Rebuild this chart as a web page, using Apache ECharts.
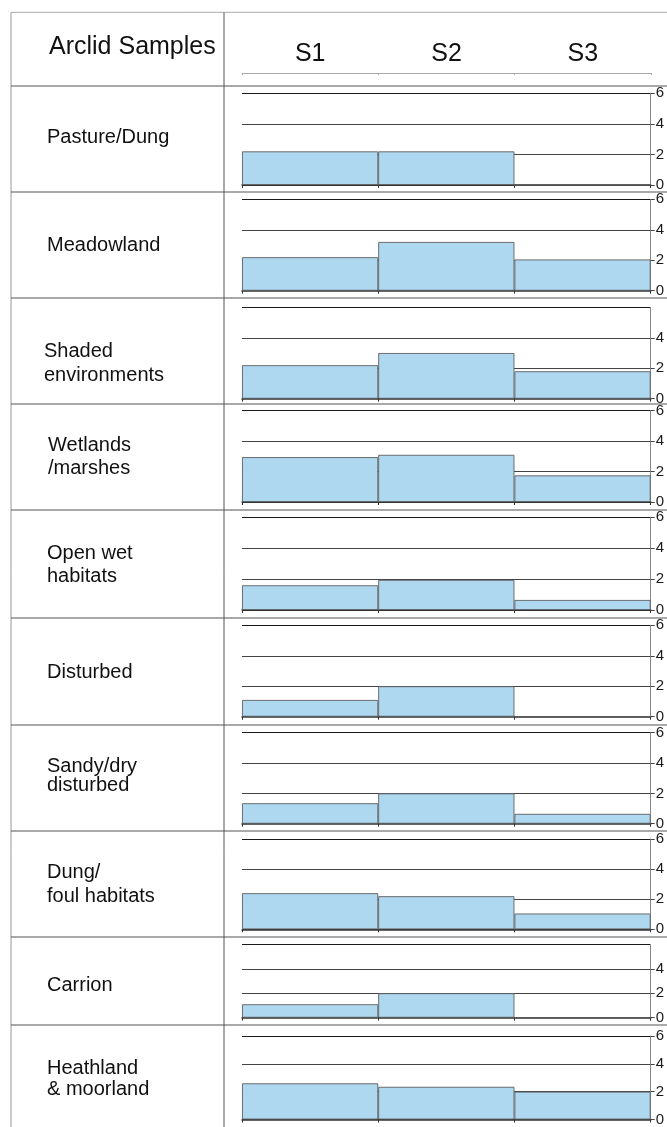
<!DOCTYPE html>
<html>
<head>
<meta charset="utf-8">
<script src="https://cdn.jsdelivr.net/npm/echarts@6/dist/echarts.min.js"></script>
<style>
html,body{margin:0;padding:0;background:#fff;}
#chart{width:667px;height:1127px;}
</style>
</head>
<body>
<div id="chart"></div>
<script>
// ---- data ----
const categories = ['S1', 'S2', 'S3'];
const habitats = ['Pasture/Dung', 'Meadowland', 'Shaded\nenvironments', 'Wetlands\n/marshes',
  'Open wet\nhabitats', 'Disturbed', 'Sandy/dry\ndisturbed', 'Dung/\nfoul habitats', 'Carrion',
  'Heathland\n& moorland'];
const pastureDung = [2.2, 2.2, 0];
const meadowland = [2.2, 3.2, 2.05];
const shaded = [2.2, 3.0, 1.8];
const wetlands = [2.95, 3.1, 1.75];
const openWet = [1.6, 1.95, 0.65];
const disturbed = [1.1, 2.0, 0];
const sandyDry = [1.35, 2.0, 0.65];
const dungFoul = [2.4, 2.2, 1.05];
const carrion = [1.1, 2.0, 0];
const heathland = [2.6, 2.35, 2.0];
const yTickLabels = [0, 2, 4, 6];
const title = 'Arclid Samples';

const values = [pastureDung, meadowland, shaded, wetlands, openWet, disturbed, sandyDry, dungFoul, carrion, heathland];

// ---- layout ----
const panelTop = [93.3, 199.3, 307.3, 410.7, 517.3, 625.3, 732.7, 839, 944.3, 1036];
const panelBottom = [185, 290.7, 398.7, 502, 610, 716.7, 823.7, 929.3, 1017.7, 1123];
const rowLines = [86, 192, 298, 404, 510, 618, 725, 831, 937, 1025];
const hideTopLabel = [false, false, true, false, false, false, false, false, true, false];
const labelPos = [
  {x: 47, y: 137, lh: 23},
  {x: 47, y: 245, lh: 23},
  {x: 44, y: 363.5, lh: 23.3},
  {x: 48, y: 456.7, lh: 23.3},
  {x: 47, y: 565, lh: 23.3},
  {x: 47, y: 672.7, lh: 23},
  {x: 47, y: 776, lh: 18.3},
  {x: 47, y: 884.7, lh: 24},
  {x: 47, y: 985.7, lh: 23},
  {x: 47, y: 1078.8, lh: 21}
];
const plotLeft = 242, plotRight = 16;
const FONT = '"Liberation Sans", Arial, Helvetica, sans-serif';

const grids = [], xAxes = [], yAxes = [], series = [], graphics = [];

values.forEach((vals, i) => {
  grids.push({left: plotLeft, right: plotRight, top: panelTop[i], height: panelBottom[i] - panelTop[i]});
  xAxes.push({
    type: 'category', gridIndex: i, data: categories,
    axisLine: {show: true, lineStyle: {color: '#333', width: 1.5}},
    axisTick: {show: true, length: 3, lineStyle: {color: '#333'}},
    axisLabel: {show: false}, splitLine: {show: false}
  });
  yAxes.push({
    type: 'value', gridIndex: i, position: 'right',
    min: yTickLabels[0], max: yTickLabels[yTickLabels.length - 1], interval: 2,
    axisLine: {show: true, lineStyle: {color: '#888', width: 1}},
    axisTick: {show: true, length: 4, lineStyle: {color: '#444'}},
    axisLabel: {fontSize: 15, color: '#1a1a1a', margin: 5, fontFamily: FONT, showMaxLabel: !hideTopLabel[i]},
    splitLine: {show: true, lineStyle: {color: ['#333', '#444', '#444', '#1a1a1a'], width: 1.1}}
  });
  series.push({
    type: 'bar', xAxisIndex: i, yAxisIndex: i, data: vals,
    barCategoryGap: '0%', silent: true,
    itemStyle: {color: '#AED8F0', borderColor: '#5e5e5e', borderWidth: 0.9}
  });
});

// header axis
grids.push({left: plotLeft, right: plotRight, top: 40, height: 33});
xAxes.push({
  type: 'category', gridIndex: 10, data: categories,
  axisLine: {show: true, lineStyle: {color: '#aaa', width: 1}},
  axisTick: {show: true, length: 2, lineStyle: {color: '#aaa'}},
  axisLabel: {show: true, inside: true, margin: 6, fontSize: 25, color: '#111', fontFamily: FONT},
  splitLine: {show: false}
});
yAxes.push({type: 'value', gridIndex: 10, show: false, min: 0, max: 1});

// table lines
graphics.push({type: 'line', shape: {x1: 11, y1: 12.3, x2: 667, y2: 12.3}, style: {stroke: '#aaa', lineWidth: 1}});
graphics.push({type: 'line', shape: {x1: 11, y1: 12.3, x2: 11, y2: 1127}, style: {stroke: '#999', lineWidth: 1}});
graphics.push({type: 'line', shape: {x1: 224, y1: 12.3, x2: 224, y2: 1127}, style: {stroke: '#555', lineWidth: 1}});
rowLines.forEach(y => {
  graphics.push({type: 'line', shape: {x1: 11, y1: y, x2: 667, y2: y}, style: {stroke: '#555', lineWidth: 1.2}});
});

// header title
graphics.push({type: 'text', x: 49, y: 47, style: {text: title, font: '25px ' + FONT, fill: '#111', verticalAlign: 'middle', align: 'left'}});

// row labels
habitats.forEach((h, i) => {
  const p = labelPos[i];
  graphics.push({type: 'text', x: p.x, y: p.y, style: {text: h, font: '20px ' + FONT, fill: '#111', verticalAlign: 'middle', align: 'left', lineHeight: p.lh}});
});

const chart = echarts.init(document.getElementById('chart'), null, {renderer: 'canvas'});
chart.setOption({
  animation: false,
  backgroundColor: '#fff',
  grid: grids, xAxis: xAxes, yAxis: yAxes, series: series, graphic: graphics
});
</script>
</body>
</html>
